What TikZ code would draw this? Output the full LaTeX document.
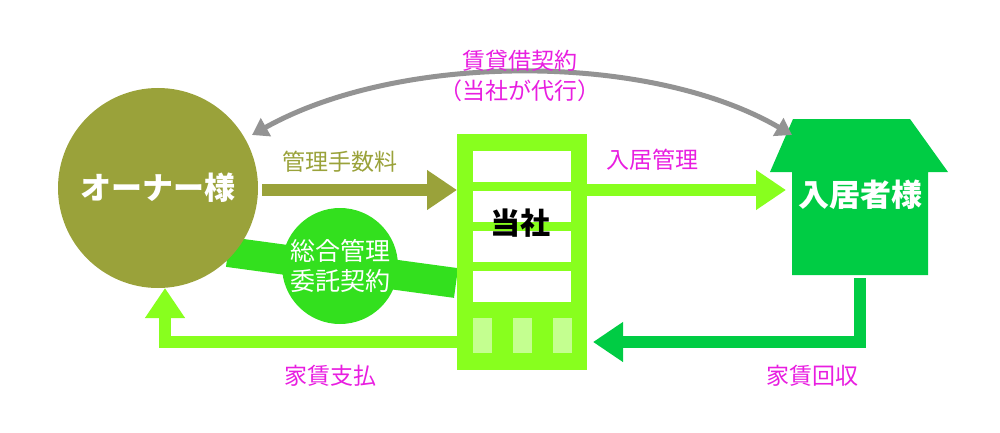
\documentclass[tikz,border=0pt]{standalone}
\usepackage{fontspec}
\setmainfont{Noto Sans CJK JP}
\usetikzlibrary{arrows.meta}
\definecolor{olive}{HTML}{9AA23A}
\definecolor{lime}{HTML}{88FF1E}
\definecolor{band}{HTML}{33E01E}
\definecolor{house}{HTML}{00CC44}
\definecolor{mag}{HTML}{E81EE0}
\definecolor{win}{HTML}{C4FF90}
\tikzset{lbl/.style={font=\fontsize{23}{26}\selectfont, text=mag},
 big/.style={font=\bfseries\fontsize{31}{33}\selectfont, text=white},
 fat/.style={line width=12pt, -{Triangle[length=30pt,width=38pt]}}}
\begin{document}
\begin{tikzpicture}[x=1pt,y=-1pt]
\useasboundingbox (0,0) rectangle (1000,433);
% band
\draw[band, line width=30pt] (228,252) -- (456,283);
\node[circle, fill=band, minimum size=116pt, inner sep=0pt, text=white, align=center, font=\fontsize{25}{30}\selectfont] (c) at (340,266) {総合管理\\委託契約};
% owner
\node[circle, fill=olive, minimum size=200pt, inner sep=0pt, big] (own) at (158,188) {オーナー様};
% building
\node[fill=lime, minimum width=130pt, minimum height=236pt, inner sep=0pt] (bld) at (522,252) {};
\foreach \y in {151,191,231,271}{\fill[white] (473,\y) rectangle (571,\y+31);}
\foreach \x in {473,513,553}{\fill[win] (\x,318) rectangle (\x+19,353);}
\node[font=\bfseries\fontsize{30}{32}\selectfont] (co) at (520,223) {当社};
% house
\fill[house] (793,119) -- (910,119) -- (948,172) -- (928,172) -- (928,275) -- (792,275) -- (792,172) -- (770,172) -- cycle;
\node[big] (hl) at (860,195) {入居者様};
% arrows
\coordinate (a1) at (262,190); \coordinate (a2) at (457,190);
\draw[olive, fat] (a1) -- (a2);
\node[font=\fontsize{23}{26}\selectfont, text=olive] (l1) at (340,162) {管理手数料};
\coordinate (b1) at (587,190); \coordinate (b2) at (786,190);
\draw[lime, fat] (b1) -- (b2);
\node[lbl] (l2) at (652,160) {入居管理};
\coordinate (r0) at (860,278); \coordinate (r1) at (860,342); \coordinate (r2) at (593,342);
\draw[house, fat] (r0) -- (r1) -- (r2);
\node[lbl] (l3) at (812,376) {家賃回収};
\coordinate (p0) at (457,342); \coordinate (p1) at (165,342); \coordinate (p2) at (165,288);
\draw[lime, fat] (p0) -- (p1) -- (p2);
\node[lbl] (l4) at (330,376) {家賃支払};
% gray
\coordinate (g1) at (252,135); \coordinate (g2) at (792,135);
\draw[gray!85, line width=5pt, {Triangle[length=16pt,width=20pt]}-{Triangle[length=16pt,width=20pt]}] (g1) .. controls (400,52) and (650,52) .. (g2);
\node[lbl, align=center, font=\fontsize{23}{30}\selectfont] (gl) at (520,76) {賃貸借契約\\（当社が代行）};
\end{tikzpicture}
\end{document}
